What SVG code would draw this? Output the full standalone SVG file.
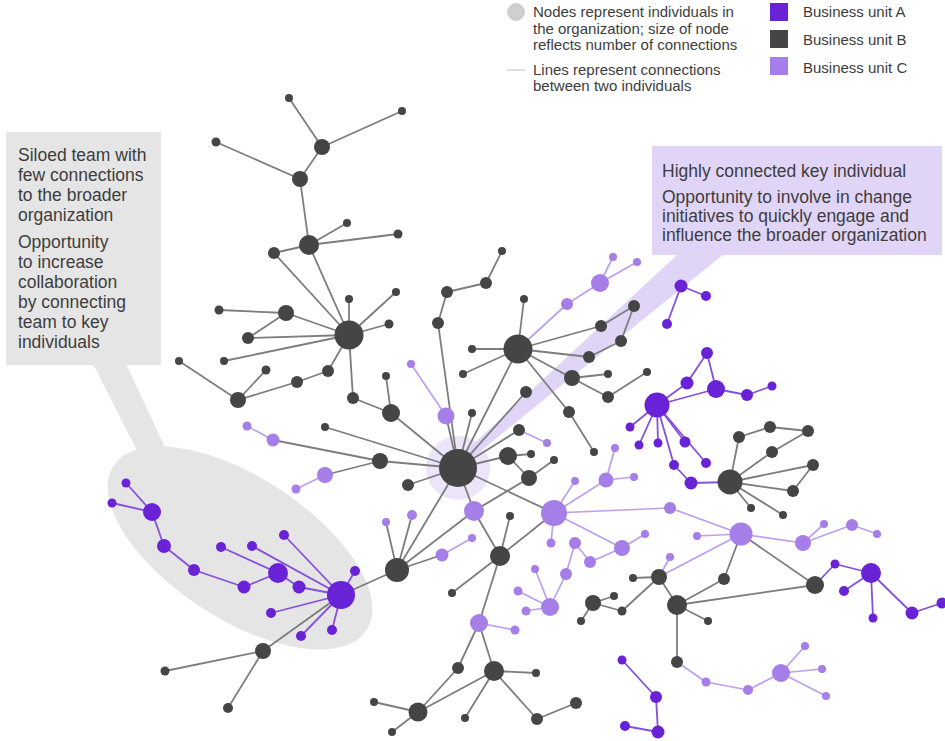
<svg xmlns="http://www.w3.org/2000/svg" width="945" height="741" viewBox="0 0 945 741">
<style>
text{font-family:"Liberation Sans",Arial,sans-serif;fill:#3d3d3d}
.t1{font-size:17.5px}
.t2{font-size:15px}
.a{fill:#6a22d6}
.b{fill:#454545}
.c{fill:#a57ee8}
.eb line{stroke:#7d7d7d;stroke-width:1.8}
.ea line{stroke:#8450dc;stroke-width:1.8}
.ec line{stroke:#bba0ef;stroke-width:1.7}
</style>
<rect width="945" height="741" fill="#fff"/>
<!-- callouts -->
<g id="callout-silo">
<ellipse cx="240" cy="548" rx="151" ry="71" transform="rotate(33 240 548)" fill="#e5e5e5"/>
<polygon points="93,364 126,364 172,462 142,460" fill="#e5e5e5"/>
<rect x="6" y="132" width="155" height="233" fill="#e5e5e5"/>
<text class="t1" x="18" y="161">Siloed team with</text>
<text class="t1" x="18" y="181">few connections</text>
<text class="t1" x="18" y="201">to the broader</text>
<text class="t1" x="18" y="221">organization</text>
<text class="t1" x="18" y="248">Opportunity</text>
<text class="t1" x="18" y="268">to increase</text>
<text class="t1" x="18" y="288">collaboration</text>
<text class="t1" x="18" y="308">by connecting</text>
<text class="t1" x="18" y="328">team to key</text>
<text class="t1" x="18" y="348">individuals</text>
</g>
<g id="callout-key">
<circle cx="458" cy="468" r="32" fill="#ece4f9"/>
<polygon points="678,254 724,254 462,466 454,462" fill="#e1d5f7"/>
<rect x="652" y="146" width="290" height="109" fill="#e1d5f7"/>
<text class="t1" x="662" y="177">Highly connected key individual</text>
<text class="t1" x="662" y="203">Opportunity to involve in change</text>
<text class="t1" x="662" y="222">initiatives to quickly engage and</text>
<text class="t1" x="662" y="241">influence the broader organization</text>
</g>
<!-- legend -->
<g id="legend">
<circle cx="516" cy="12" r="9" fill="#cfcfcf"/>
<text class="t2" x="533" y="17">Nodes represent individuals in</text>
<text class="t2" x="533" y="33.5">the organization; size of node</text>
<text class="t2" x="533" y="50">reflects number of connections</text>
<line x1="507" y1="70" x2="525" y2="70" stroke="#bbbbbb" stroke-width="1"/>
<text class="t2" x="533" y="75">Lines represent connections</text>
<text class="t2" x="533" y="91">between two individuals</text>
<rect x="770" y="3" width="18" height="18" class="a"/>
<text class="t2" x="803" y="17">Business unit A</text>
<rect x="770" y="30" width="18" height="18" class="b"/>
<text class="t2" x="803" y="45">Business unit B</text>
<rect x="770" y="57" width="18" height="18" class="c"/>
<text class="t2" x="803" y="73">Business unit C</text>
</g>
<g id="connectors">
<g class="eb">
<line x1="289" y1="98" x2="322" y2="147"/><line x1="402" y1="111" x2="322" y2="147"/><line x1="322" y1="147" x2="300" y2="179"/><line x1="216" y1="142" x2="300" y2="179"/><line x1="300" y1="179" x2="309" y2="245"/><line x1="309" y1="245" x2="347" y2="223"/><line x1="309" y1="245" x2="398" y2="234"/><line x1="309" y1="245" x2="274" y2="253"/><line x1="274" y1="253" x2="349" y2="335"/><line x1="309" y1="245" x2="349" y2="335"/><line x1="349" y1="335" x2="349" y2="299"/><line x1="349" y1="335" x2="396" y2="292"/><line x1="349" y1="335" x2="389" y2="324"/><line x1="349" y1="335" x2="286" y2="313"/><line x1="286" y1="313" x2="219" y2="310"/><line x1="286" y1="313" x2="248" y2="338"/><line x1="248" y1="338" x2="349" y2="335"/><line x1="224" y1="361" x2="349" y2="335"/><line x1="349" y1="335" x2="328" y2="371"/><line x1="328" y1="371" x2="297" y2="382"/><line x1="297" y1="382" x2="238" y2="400"/><line x1="238" y1="400" x2="179" y2="361"/><line x1="238" y1="400" x2="266" y2="370"/><line x1="349" y1="335" x2="353" y2="398"/><line x1="353" y1="398" x2="391" y2="413"/><line x1="391" y1="413" x2="386" y2="376"/><line x1="391" y1="413" x2="458" y2="468"/><line x1="325" y1="427" x2="458" y2="468"/><line x1="380" y1="461" x2="458" y2="468"/><line x1="408" y1="485" x2="458" y2="468"/><line x1="438" y1="323" x2="458" y2="468"/><line x1="438" y1="323" x2="447" y2="292"/><line x1="447" y1="292" x2="486" y2="283"/><line x1="486" y1="283" x2="502" y2="251"/><line x1="472" y1="413" x2="458" y2="468"/><line x1="518" y1="349" x2="458" y2="468"/><line x1="526" y1="392" x2="458" y2="468"/><line x1="519" y1="430" x2="458" y2="468"/><line x1="508" y1="456" x2="458" y2="468"/><line x1="397" y1="570" x2="458" y2="468"/><line x1="518" y1="349" x2="524" y2="299"/><line x1="518" y1="349" x2="472" y2="349"/><line x1="518" y1="349" x2="463" y2="374"/><line x1="518" y1="349" x2="601" y2="326"/><line x1="601" y1="326" x2="634" y2="306"/><line x1="634" y1="306" x2="621" y2="341"/><line x1="621" y1="341" x2="589" y2="357"/><line x1="589" y1="357" x2="518" y2="349"/><line x1="572" y1="378" x2="518" y2="349"/><line x1="572" y1="378" x2="608" y2="374"/><line x1="572" y1="378" x2="608" y2="397"/><line x1="608" y1="397" x2="647" y2="372"/><line x1="569" y1="412" x2="518" y2="349"/><line x1="569" y1="412" x2="594" y2="452"/><line x1="508" y1="456" x2="531" y2="454"/><line x1="508" y1="456" x2="529" y2="478"/><line x1="529" y1="478" x2="554" y2="460"/><line x1="500" y1="556" x2="510" y2="516"/><line x1="500" y1="556" x2="452" y2="593"/><line x1="458" y1="668" x2="418" y2="712"/><line x1="494" y1="671" x2="418" y2="712"/><line x1="494" y1="671" x2="536" y2="673"/><line x1="494" y1="671" x2="465" y2="718"/><line x1="494" y1="671" x2="537" y2="719"/><line x1="537" y1="719" x2="576" y2="703"/><line x1="418" y1="712" x2="374" y2="702"/><line x1="418" y1="712" x2="392" y2="732"/><line x1="263" y1="651" x2="165" y2="671"/><line x1="263" y1="651" x2="228" y2="708"/><line x1="730" y1="482" x2="739" y2="437"/><line x1="739" y1="437" x2="770" y2="427"/><line x1="770" y1="427" x2="808" y2="431"/><line x1="808" y1="431" x2="772" y2="452"/><line x1="772" y1="452" x2="730" y2="482"/><line x1="730" y1="482" x2="813" y2="465"/><line x1="813" y1="465" x2="793" y2="491"/><line x1="730" y1="482" x2="793" y2="491"/><line x1="730" y1="482" x2="751" y2="508"/><line x1="730" y1="482" x2="783" y2="515"/><line x1="659" y1="577" x2="633" y2="578"/><line x1="659" y1="577" x2="622" y2="611"/><line x1="622" y1="611" x2="593" y2="603"/><line x1="593" y1="603" x2="614" y2="596"/><line x1="593" y1="603" x2="581" y2="621"/><line x1="659" y1="577" x2="677" y2="605"/><line x1="677" y1="605" x2="724" y2="579"/><line x1="677" y1="605" x2="708" y2="621"/><line x1="677" y1="605" x2="815" y2="585"/><line x1="677" y1="605" x2="677" y2="662"/>
<line x1="397" y1="570" x2="341" y2="595"/><line x1="263" y1="651" x2="341" y2="595"/><line x1="397" y1="570" x2="386" y2="522"/><line x1="397" y1="570" x2="412" y2="515"/><line x1="397" y1="570" x2="442" y2="555"/><line x1="397" y1="570" x2="474" y2="511"/><line x1="474" y1="511" x2="458" y2="468"/><line x1="474" y1="511" x2="500" y2="556"/><line x1="474" y1="511" x2="529" y2="478"/><line x1="500" y1="556" x2="554" y2="513"/><line x1="554" y1="513" x2="458" y2="468"/><line x1="479" y1="623" x2="500" y2="556"/><line x1="479" y1="623" x2="458" y2="668"/><line x1="479" y1="623" x2="494" y2="671"/><line x1="446" y1="416" x2="458" y2="468"/><line x1="273" y1="440" x2="380" y2="461"/><line x1="325" y1="475" x2="380" y2="461"/><line x1="724" y1="579" x2="741" y2="534"/><line x1="815" y1="585" x2="741" y2="534"/>
</g>
<g class="ec">
<line x1="411" y1="364" x2="446" y2="416"/><line x1="518" y1="349" x2="567" y2="304"/><line x1="567" y1="304" x2="600" y2="283"/><line x1="600" y1="283" x2="613" y2="257"/><line x1="600" y1="283" x2="637" y2="262"/><line x1="519" y1="430" x2="547" y2="443"/><line x1="554" y1="513" x2="606" y2="480"/><line x1="554" y1="513" x2="575" y2="481"/><line x1="554" y1="513" x2="551" y2="543"/><line x1="554" y1="513" x2="622" y2="548"/><line x1="554" y1="513" x2="670" y2="508"/><line x1="606" y1="480" x2="615" y2="448"/><line x1="606" y1="480" x2="634" y2="477"/><line x1="442" y1="555" x2="472" y2="538"/><line x1="575" y1="543" x2="590" y2="562"/><line x1="590" y1="562" x2="622" y2="548"/><line x1="622" y1="548" x2="645" y2="534"/><line x1="566" y1="574" x2="575" y2="543"/><line x1="550" y1="607" x2="566" y2="574"/><line x1="550" y1="607" x2="535" y2="569"/><line x1="550" y1="607" x2="518" y2="591"/><line x1="550" y1="607" x2="526" y2="611"/><line x1="479" y1="623" x2="515" y2="630"/><line x1="670" y1="508" x2="741" y2="534"/><line x1="741" y1="534" x2="697" y2="536"/><line x1="741" y1="534" x2="803" y2="543"/><line x1="803" y1="543" x2="824" y2="524"/><line x1="803" y1="543" x2="852" y2="525"/><line x1="852" y1="525" x2="877" y2="534"/><line x1="659" y1="577" x2="741" y2="534"/><line x1="659" y1="577" x2="670" y2="557"/><line x1="677" y1="662" x2="706" y2="682"/><line x1="706" y1="682" x2="748" y2="690"/><line x1="748" y1="690" x2="781" y2="673"/><line x1="781" y1="673" x2="805" y2="646"/><line x1="781" y1="673" x2="822" y2="669"/><line x1="781" y1="673" x2="826" y2="696"/><line x1="247" y1="426" x2="273" y2="440"/><line x1="325" y1="475" x2="296" y2="489"/>
</g>
<g class="ea">
<line x1="126" y1="483" x2="152" y2="512"/><line x1="112" y1="503" x2="152" y2="512"/><line x1="152" y1="512" x2="164" y2="546"/><line x1="164" y1="546" x2="194" y2="570"/><line x1="194" y1="570" x2="244" y2="587"/><line x1="244" y1="587" x2="278" y2="573"/><line x1="278" y1="573" x2="221" y2="547"/><line x1="278" y1="573" x2="299" y2="587"/><line x1="299" y1="587" x2="341" y2="595"/><line x1="252" y1="546" x2="341" y2="595"/><line x1="284" y1="535" x2="341" y2="595"/><line x1="271" y1="613" x2="341" y2="595"/><line x1="301" y1="636" x2="341" y2="595"/><line x1="355" y1="571" x2="341" y2="595"/><line x1="332" y1="630" x2="341" y2="595"/><line x1="681" y1="286" x2="706" y2="296"/><line x1="681" y1="286" x2="667" y2="324"/><line x1="657" y1="405" x2="687" y2="383"/><line x1="687" y1="383" x2="707" y2="353"/><line x1="707" y1="353" x2="716" y2="389"/><line x1="657" y1="405" x2="716" y2="389"/><line x1="716" y1="389" x2="747" y2="395"/><line x1="747" y1="395" x2="772" y2="386"/><line x1="657" y1="405" x2="630" y2="427"/><line x1="657" y1="405" x2="639" y2="445"/><line x1="657" y1="405" x2="658" y2="443"/><line x1="657" y1="405" x2="685" y2="442"/><line x1="657" y1="405" x2="706" y2="463"/><line x1="657" y1="405" x2="674" y2="465"/><line x1="674" y1="465" x2="691" y2="483"/><line x1="691" y1="483" x2="730" y2="482"/><line x1="815" y1="585" x2="835" y2="564"/><line x1="835" y1="564" x2="871" y2="573"/><line x1="871" y1="573" x2="844" y2="591"/><line x1="871" y1="573" x2="873" y2="618"/><line x1="871" y1="573" x2="912" y2="613"/><line x1="912" y1="613" x2="942" y2="603"/><line x1="622" y1="660" x2="656" y2="697"/><line x1="656" y1="697" x2="658" y2="732"/><line x1="658" y1="732" x2="625" y2="726"/>
</g>
</g>
<g id="nodes">
<g id="b1"><circle class="b" cx="289" cy="98" r="4"/></g>
<g id="b2"><circle class="b" cx="402" cy="111" r="4"/></g>
<g id="b3"><circle class="b" cx="322" cy="147" r="8"/></g>
<g id="b4"><circle class="b" cx="216" cy="142" r="4.5"/></g>
<g id="b5"><circle class="b" cx="300" cy="179" r="8"/></g>
<g id="b6"><circle class="b" cx="347" cy="223" r="4"/></g>
<g id="b7"><circle class="b" cx="398" cy="234" r="4.5"/></g>
<g id="b8"><circle class="b" cx="309" cy="245" r="10"/></g>
<g id="b9"><circle class="b" cx="274" cy="253" r="6"/></g>
<g id="b10"><circle class="b" cx="349" cy="335" r="14.5"/></g>
<g id="b11"><circle class="b" cx="349" cy="299" r="4"/></g>
<g id="b12"><circle class="b" cx="396" cy="292" r="4"/></g>
<g id="b13"><circle class="b" cx="389" cy="324" r="4.5"/></g>
<g id="b14"><circle class="b" cx="286" cy="313" r="8"/></g>
<g id="b15"><circle class="b" cx="219" cy="310" r="4.5"/></g>
<g id="b16"><circle class="b" cx="248" cy="338" r="6"/></g>
<g id="b17"><circle class="b" cx="224" cy="361" r="4"/></g>
<g id="b18"><circle class="b" cx="179" cy="361" r="4"/></g>
<g id="b19"><circle class="b" cx="238" cy="400" r="8"/></g>
<g id="b20"><circle class="b" cx="266" cy="370" r="4.5"/></g>
<g id="b21"><circle class="b" cx="297" cy="382" r="6"/></g>
<g id="b22"><circle class="b" cx="328" cy="371" r="6"/></g>
<g id="b23"><circle class="b" cx="353" cy="398" r="6"/></g>
<g id="b24"><circle class="b" cx="386" cy="376" r="4"/></g>
<g id="b25"><circle class="b" cx="391" cy="413" r="9"/></g>
<g id="b26"><circle class="b" cx="325" cy="427" r="4"/></g>
<g id="b27"><circle class="b" cx="380" cy="461" r="8"/></g>
<g id="b28"><circle class="b" cx="408" cy="485" r="6"/></g>
<g id="b29"><circle class="b" cx="438" cy="323" r="6"/></g>
<g id="b30"><circle class="b" cx="447" cy="292" r="6"/></g>
<g id="b31"><circle class="b" cx="486" cy="283" r="6"/></g>
<g id="b32"><circle class="b" cx="502" cy="251" r="4"/></g>
<g id="b33"><circle class="b" cx="472" cy="413" r="4"/></g>
<g id="b34"><circle class="b" cx="458" cy="468" r="19"/></g>
<g id="b35"><circle class="b" cx="518" cy="349" r="14.5"/></g>
<g id="b36"><circle class="b" cx="524" cy="299" r="4"/></g>
<g id="b37"><circle class="b" cx="472" cy="349" r="4"/></g>
<g id="b38"><circle class="b" cx="463" cy="374" r="4"/></g>
<g id="b39"><circle class="b" cx="526" cy="392" r="6"/></g>
<g id="b40"><circle class="b" cx="601" cy="326" r="6"/></g>
<g id="b41"><circle class="b" cx="634" cy="306" r="6"/></g>
<g id="b42"><circle class="b" cx="621" cy="341" r="6"/></g>
<g id="b43"><circle class="b" cx="589" cy="357" r="6"/></g>
<g id="b44"><circle class="b" cx="572" cy="378" r="8"/></g>
<g id="b45"><circle class="b" cx="608" cy="374" r="4"/></g>
<g id="b46"><circle class="b" cx="608" cy="397" r="6"/></g>
<g id="b47"><circle class="b" cx="647" cy="372" r="4"/></g>
<g id="b48"><circle class="b" cx="569" cy="412" r="6"/></g>
<g id="b49"><circle class="b" cx="594" cy="452" r="4"/></g>
<g id="b50"><circle class="b" cx="519" cy="430" r="6"/></g>
<g id="b51"><circle class="b" cx="508" cy="456" r="9"/></g>
<g id="b52"><circle class="b" cx="531" cy="454" r="4"/></g>
<g id="b53"><circle class="b" cx="529" cy="478" r="8"/></g>
<g id="b54"><circle class="b" cx="554" cy="460" r="4"/></g>
<g id="b55"><circle class="b" cx="510" cy="516" r="4"/></g>
<g id="b56"><circle class="b" cx="500" cy="556" r="10"/></g>
<g id="b57"><circle class="b" cx="452" cy="593" r="4"/></g>
<g id="b58"><circle class="b" cx="397" cy="570" r="12"/></g>
<g id="b59"><circle class="b" cx="458" cy="668" r="6"/></g>
<g id="b60"><circle class="b" cx="494" cy="671" r="10"/></g>
<g id="b61"><circle class="b" cx="536" cy="673" r="4"/></g>
<g id="b62"><circle class="b" cx="418" cy="712" r="9.5"/></g>
<g id="b63"><circle class="b" cx="374" cy="702" r="4"/></g>
<g id="b64"><circle class="b" cx="392" cy="732" r="4"/></g>
<g id="b65"><circle class="b" cx="465" cy="718" r="4"/></g>
<g id="b66"><circle class="b" cx="537" cy="719" r="6"/></g>
<g id="b67"><circle class="b" cx="576" cy="703" r="6"/></g>
<g id="b68"><circle class="b" cx="263" cy="651" r="8"/></g>
<g id="b69"><circle class="b" cx="165" cy="671" r="4.5"/></g>
<g id="b70"><circle class="b" cx="228" cy="708" r="5"/></g>
<g id="b71"><circle class="b" cx="730" cy="482" r="12.5"/></g>
<g id="b72"><circle class="b" cx="739" cy="437" r="6"/></g>
<g id="b73"><circle class="b" cx="770" cy="427" r="6"/></g>
<g id="b74"><circle class="b" cx="808" cy="431" r="6"/></g>
<g id="b75"><circle class="b" cx="772" cy="452" r="6"/></g>
<g id="b76"><circle class="b" cx="813" cy="465" r="6"/></g>
<g id="b77"><circle class="b" cx="793" cy="491" r="6"/></g>
<g id="b78"><circle class="b" cx="751" cy="508" r="4"/></g>
<g id="b79"><circle class="b" cx="783" cy="515" r="4"/></g>
<g id="b80"><circle class="b" cx="659" cy="577" r="8"/></g>
<g id="b81"><circle class="b" cx="633" cy="578" r="4"/></g>
<g id="b82"><circle class="b" cx="622" cy="611" r="4.5"/></g>
<g id="b83"><circle class="b" cx="593" cy="603" r="8"/></g>
<g id="b84"><circle class="b" cx="614" cy="596" r="4"/></g>
<g id="b85"><circle class="b" cx="581" cy="621" r="4"/></g>
<g id="b86"><circle class="b" cx="677" cy="605" r="10"/></g>
<g id="b87"><circle class="b" cx="724" cy="579" r="6"/></g>
<g id="b88"><circle class="b" cx="708" cy="621" r="4"/></g>
<g id="b89"><circle class="b" cx="815" cy="585" r="9"/></g>
<g id="b90"><circle class="b" cx="677" cy="662" r="6"/></g>
<g id="a1"><circle class="a" cx="126" cy="483" r="4.5"/></g>
<g id="a2"><circle class="a" cx="112" cy="503" r="4.5"/></g>
<g id="a3"><circle class="a" cx="152" cy="512" r="9"/></g>
<g id="a4"><circle class="a" cx="164" cy="546" r="7"/></g>
<g id="a5"><circle class="a" cx="194" cy="570" r="6"/></g>
<g id="a6"><circle class="a" cx="244" cy="587" r="6.5"/></g>
<g id="a7"><circle class="a" cx="278" cy="573" r="10"/></g>
<g id="a8"><circle class="a" cx="221" cy="547" r="5"/></g>
<g id="a9"><circle class="a" cx="252" cy="546" r="5"/></g>
<g id="a10"><circle class="a" cx="284" cy="535" r="5"/></g>
<g id="a11"><circle class="a" cx="299" cy="587" r="6.5"/></g>
<g id="a12"><circle class="a" cx="271" cy="613" r="5"/></g>
<g id="a13"><circle class="a" cx="301" cy="636" r="5"/></g>
<g id="a14"><circle class="a" cx="341" cy="595" r="14"/></g>
<g id="a15"><circle class="a" cx="355" cy="571" r="5"/></g>
<g id="a16"><circle class="a" cx="332" cy="630" r="5"/></g>
<g id="a17"><circle class="a" cx="681" cy="286" r="6.5"/></g>
<g id="a18"><circle class="a" cx="706" cy="296" r="5"/></g>
<g id="a19"><circle class="a" cx="667" cy="324" r="5"/></g>
<g id="a20"><circle class="a" cx="707" cy="353" r="6"/></g>
<g id="a21"><circle class="a" cx="687" cy="383" r="6.5"/></g>
<g id="a22"><circle class="a" cx="716" cy="389" r="9"/></g>
<g id="a23"><circle class="a" cx="747" cy="395" r="6"/></g>
<g id="a24"><circle class="a" cx="772" cy="386" r="4.5"/></g>
<g id="a25"><circle class="a" cx="657" cy="405" r="12.5"/></g>
<g id="a26"><circle class="a" cx="630" cy="427" r="4.5"/></g>
<g id="a27"><circle class="a" cx="639" cy="445" r="4.5"/></g>
<g id="a28"><circle class="a" cx="658" cy="443" r="4.5"/></g>
<g id="a29"><circle class="a" cx="685" cy="442" r="5.5"/></g>
<g id="a30"><circle class="a" cx="706" cy="463" r="5"/></g>
<g id="a31"><circle class="a" cx="674" cy="465" r="5"/></g>
<g id="a32"><circle class="a" cx="691" cy="483" r="6.5"/></g>
<g id="a33"><circle class="a" cx="835" cy="564" r="4.5"/></g>
<g id="a34"><circle class="a" cx="871" cy="573" r="10"/></g>
<g id="a35"><circle class="a" cx="844" cy="591" r="5"/></g>
<g id="a36"><circle class="a" cx="873" cy="618" r="4.5"/></g>
<g id="a37"><circle class="a" cx="912" cy="613" r="6.5"/></g>
<g id="a38"><circle class="a" cx="942" cy="603" r="5.5"/></g>
<g id="a39"><circle class="a" cx="622" cy="660" r="4.5"/></g>
<g id="a40"><circle class="a" cx="656" cy="697" r="6"/></g>
<g id="a41"><circle class="a" cx="658" cy="732" r="6.5"/></g>
<g id="a42"><circle class="a" cx="625" cy="726" r="5"/></g>
<g id="c1"><circle class="c" cx="411" cy="364" r="4"/></g>
<g id="c2"><circle class="c" cx="446" cy="416" r="8.5"/></g>
<g id="c3"><circle class="c" cx="567" cy="304" r="6"/></g>
<g id="c4"><circle class="c" cx="600" cy="283" r="9"/></g>
<g id="c5"><circle class="c" cx="613" cy="257" r="4"/></g>
<g id="c6"><circle class="c" cx="637" cy="262" r="4"/></g>
<g id="c7"><circle class="c" cx="547" cy="443" r="4"/></g>
<g id="c8"><circle class="c" cx="474" cy="511" r="10"/></g>
<g id="c9"><circle class="c" cx="554" cy="513" r="13"/></g>
<g id="c10"><circle class="c" cx="606" cy="480" r="7.5"/></g>
<g id="c11"><circle class="c" cx="615" cy="448" r="4"/></g>
<g id="c12"><circle class="c" cx="634" cy="477" r="4"/></g>
<g id="c13"><circle class="c" cx="575" cy="481" r="4"/></g>
<g id="c14"><circle class="c" cx="386" cy="522" r="4"/></g>
<g id="c15"><circle class="c" cx="412" cy="515" r="5"/></g>
<g id="c16"><circle class="c" cx="442" cy="555" r="6.5"/></g>
<g id="c17"><circle class="c" cx="472" cy="538" r="4"/></g>
<g id="c18"><circle class="c" cx="551" cy="543" r="4.5"/></g>
<g id="c19"><circle class="c" cx="575" cy="543" r="6"/></g>
<g id="c20"><circle class="c" cx="590" cy="562" r="6"/></g>
<g id="c21"><circle class="c" cx="622" cy="548" r="8"/></g>
<g id="c22"><circle class="c" cx="645" cy="534" r="4"/></g>
<g id="c23"><circle class="c" cx="566" cy="574" r="6"/></g>
<g id="c24"><circle class="c" cx="550" cy="607" r="9"/></g>
<g id="c25"><circle class="c" cx="535" cy="569" r="4"/></g>
<g id="c26"><circle class="c" cx="518" cy="591" r="4.5"/></g>
<g id="c27"><circle class="c" cx="526" cy="611" r="4.5"/></g>
<g id="c28"><circle class="c" cx="479" cy="623" r="9"/></g>
<g id="c29"><circle class="c" cx="515" cy="630" r="4.5"/></g>
<g id="c30"><circle class="c" cx="670" cy="508" r="6"/></g>
<g id="c31"><circle class="c" cx="741" cy="534" r="11.5"/></g>
<g id="c32"><circle class="c" cx="697" cy="536" r="4"/></g>
<g id="c33"><circle class="c" cx="803" cy="543" r="8"/></g>
<g id="c34"><circle class="c" cx="824" cy="524" r="4"/></g>
<g id="c35"><circle class="c" cx="852" cy="525" r="6"/></g>
<g id="c36"><circle class="c" cx="877" cy="534" r="4"/></g>
<g id="c37"><circle class="c" cx="670" cy="557" r="4"/></g>
<g id="c38"><circle class="c" cx="706" cy="682" r="4.5"/></g>
<g id="c39"><circle class="c" cx="748" cy="690" r="5"/></g>
<g id="c40"><circle class="c" cx="781" cy="673" r="9"/></g>
<g id="c41"><circle class="c" cx="805" cy="646" r="4"/></g>
<g id="c42"><circle class="c" cx="822" cy="669" r="4"/></g>
<g id="c43"><circle class="c" cx="826" cy="696" r="4"/></g>
<g id="c44"><circle class="c" cx="247" cy="426" r="4.5"/></g>
<g id="c45"><circle class="c" cx="273" cy="440" r="6.5"/></g>
<g id="c46"><circle class="c" cx="325" cy="475" r="8"/></g>
<g id="c47"><circle class="c" cx="296" cy="489" r="4.5"/></g>
</g>
</svg>
